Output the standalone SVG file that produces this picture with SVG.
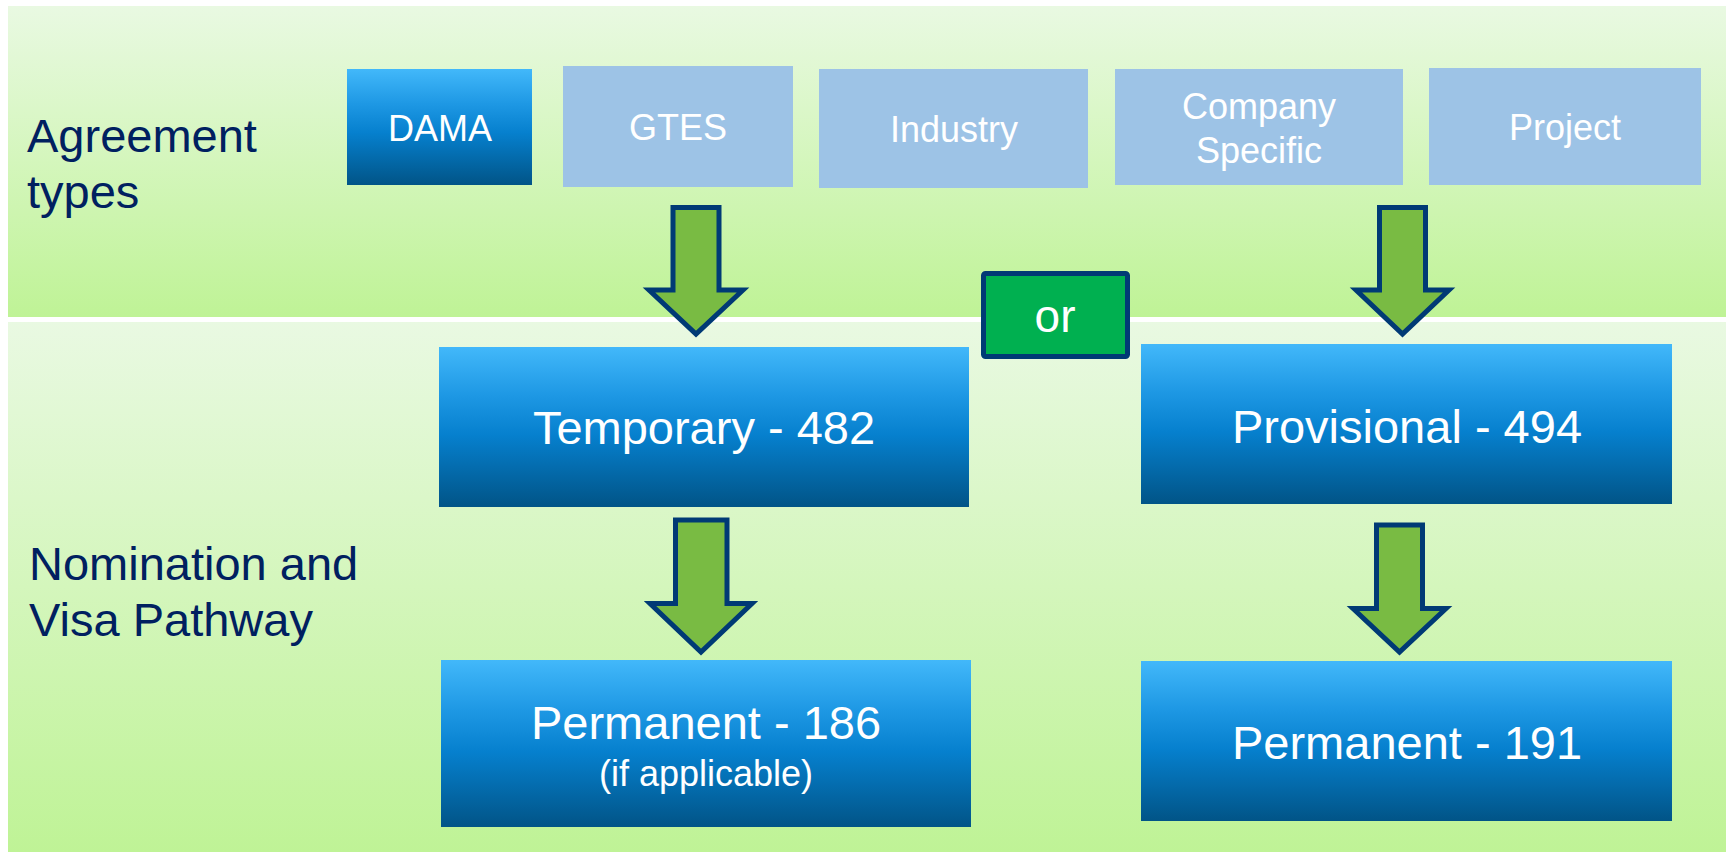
<svg xmlns="http://www.w3.org/2000/svg" width="1726" height="852" viewBox="0 0 1726 852">
  <defs>
    <linearGradient id="bandGrad" x1="0" y1="0" x2="0" y2="1">
      <stop offset="0" stop-color="#E9F9E2"/>
      <stop offset="1" stop-color="#BFF396"/>
    </linearGradient>
    <linearGradient id="blueGrad" x1="0" y1="0" x2="0" y2="1">
      <stop offset="0" stop-color="#42B8FA"/>
      <stop offset="0.3" stop-color="#1E98E4"/>
      <stop offset="0.55" stop-color="#0680CE"/>
      <stop offset="1" stop-color="#015487"/>
    </linearGradient>
    <style>
      .band { fill: url(#bandGrad); }
      .blue { fill: url(#blueGrad); }
      .light { fill: #9DC3E6; }
      .arrow { fill: #79BB43; stroke: #003A75; stroke-width: 5; stroke-linejoin: miter; }
      .or { fill: #00B050; stroke: #003A75; stroke-width: 5; }
      .lbl { font-family: "Liberation Sans", Arial, sans-serif; fill: #002060; font-size: 47px; }
      .wt { font-family: "Liberation Sans", Arial, sans-serif; fill: #FFFFFF; text-anchor: middle; }
      .s36 { font-size: 36px; }
      .s47 { font-size: 47px; }
    </style>
  </defs>

  <rect width="1726" height="852" fill="#FFFFFF"/>

  <g id="bands">
    <rect class="band" x="8" y="6" width="1718" height="311"/>
    <rect class="band" x="8" y="322" width="1718" height="530"/>
  </g>

  <g id="labels">
    <text class="lbl" x="27" y="152">Agreement</text>
    <text class="lbl" x="27" y="208">types</text>
    <text class="lbl" x="29" y="580">Nomination and</text>
    <text class="lbl" x="29" y="636">Visa Pathway</text>
  </g>

  <g id="node-dama">
    <rect class="blue" x="347" y="69" width="185" height="116"/>
    <text class="wt s36" x="440" y="141">DAMA</text>
  </g>
  <g id="node-gtes">
    <rect class="light" x="563" y="66" width="230" height="121"/>
    <text class="wt s36" x="678" y="140">GTES</text>
  </g>
  <g id="node-industry">
    <rect class="light" x="819" y="69" width="269" height="119"/>
    <text class="wt s36" x="954" y="142">Industry</text>
  </g>
  <g id="node-company">
    <rect class="light" x="1115" y="69" width="288" height="116"/>
    <text class="wt s36" x="1259" y="119">Company</text>
    <text class="wt s36" x="1259" y="163">Specific</text>
  </g>
  <g id="node-project">
    <rect class="light" x="1429" y="68" width="272" height="117"/>
    <text class="wt s36" x="1565" y="140">Project</text>
  </g>

  <g id="node-or">
    <rect class="or" x="983.5" y="273.5" width="144" height="83" rx="2"/>
    <text class="wt" x="1055" y="332" font-size="46px">or</text>
  </g>

  <g id="node-temporary">
    <rect class="blue" x="439" y="347" width="530" height="160"/>
    <text class="wt s47" x="704" y="444">Temporary - 482</text>
  </g>
  <g id="node-provisional">
    <rect class="blue" x="1141" y="344" width="531" height="160"/>
    <text class="wt s47" x="1407" y="443">Provisional - 494</text>
  </g>
  <g id="node-permanent186">
    <rect class="blue" x="441" y="660" width="530" height="167"/>
    <text class="wt s47" x="706" y="739">Permanent - 186</text>
    <text class="wt s36" x="706" y="786">(if applicable)</text>
  </g>
  <g id="node-permanent191">
    <rect class="blue" x="1141" y="661" width="531" height="160"/>
    <text class="wt s47" x="1407" y="759">Permanent - 191</text>
  </g>

  <g id="connectors">
    <path class="arrow" d="M673,207.5 H719 V290 H743 L696,334 L649,290 H673 Z"/>
    <path class="arrow" d="M1379.5,207.5 H1425.5 V290 H1449 L1402.5,334 L1356,290 H1379.5 Z"/>
    <path class="arrow" d="M675.5,520 H727 V603.5 H752 L701,652 L650,603.5 H675.5 Z"/>
    <path class="arrow" d="M1376.5,525 H1422.5 V608.5 H1446 L1399.5,652 L1353,608.5 H1376.5 Z"/>
  </g>
</svg>
